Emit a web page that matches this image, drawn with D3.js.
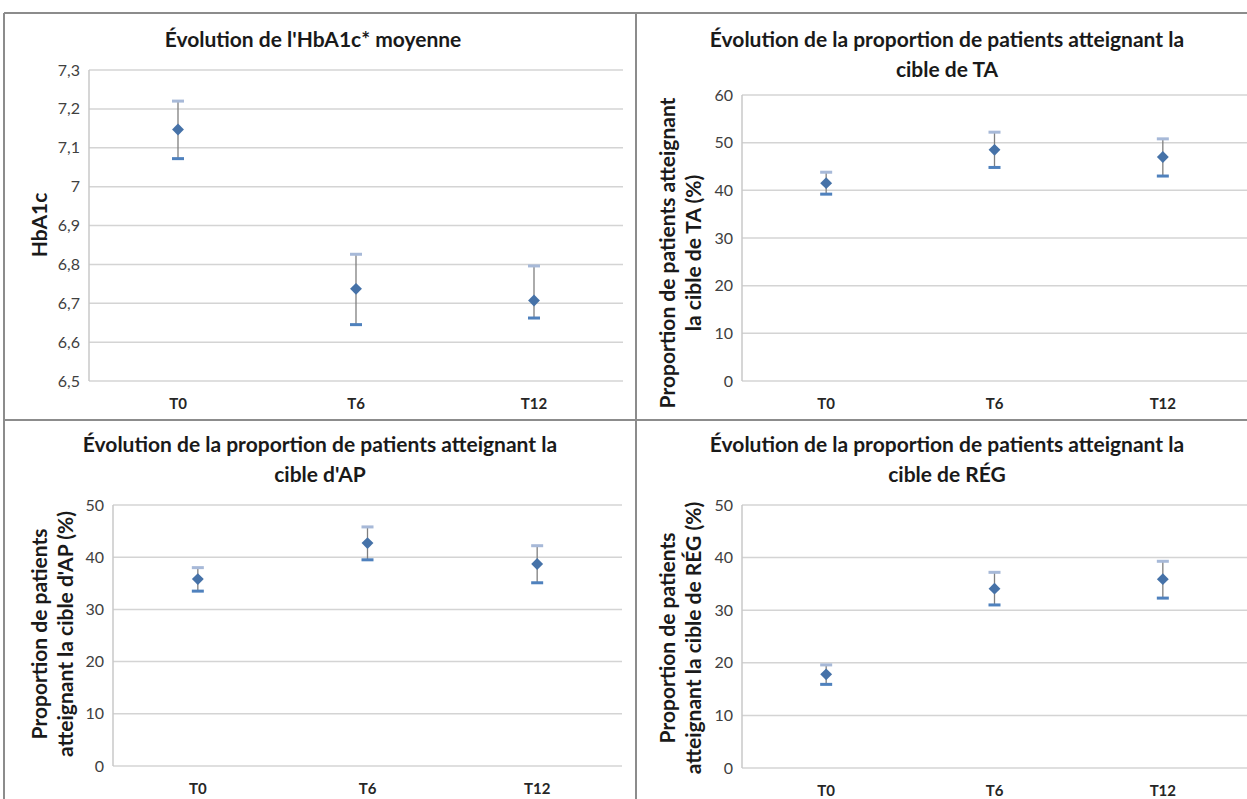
<!DOCTYPE html>
<html>
<head>
<meta charset="utf-8">
<script src="https://cdn.jsdelivr.net/npm/d3@7"></script>
<style>
  body { margin: 0; background: #fff; }
  svg { display: block; }
</style>
</head>
<body>
<div id="chart"></div>
<script>
// data
var categories = ["T0", "T6", "T12"];

var hbaMean  = [7.147, 6.737, 6.707];
var hbaUpper = [7.220, 6.826, 6.796];
var hbaLower = [7.072, 6.645, 6.662];
var hbaTicks = [6.5, 6.6, 6.7, 6.8, 6.9, 7.0, 7.1, 7.2, 7.3];

var taMean  = [41.5, 48.5, 47.0];
var taUpper = [43.8, 52.2, 50.8];
var taLower = [39.2, 44.8, 43.0];
var taTicks = [0, 10, 20, 30, 40, 50, 60];

var apMean  = [35.8, 42.7, 38.7];
var apUpper = [38.0, 45.8, 42.2];
var apLower = [33.5, 39.5, 35.1];
var apTicks = [0, 10, 20, 30, 40, 50];

var regMean  = [17.8, 34.1, 35.9];
var regUpper = [19.6, 37.2, 39.3];
var regLower = [15.9, 31.0, 32.3];
var regTicks = [0, 10, 20, 30, 40, 50];

var W = 1247, H = 799;
var font = "Lato, 'Open Sans', sans-serif";

var svg = d3.select("#chart").append("svg")
  .attr("width", W)
  .attr("height", H);

// panel frames
var frame = svg.append("g").attr("fill", "none").attr("stroke", "#8c8c8c").attr("stroke-width", 2);
frame.append("line").attr("x1", 4).attr("x2", W).attr("y1", 13).attr("y2", 13);
frame.append("line").attr("x1", 4).attr("x2", 4).attr("y1", 13).attr("y2", H);
frame.append("line").attr("x1", 636).attr("x2", 636).attr("y1", 13).attr("y2", H);
frame.append("line").attr("x1", 4).attr("x2", W).attr("y1", 420).attr("y2", 420);

var fmt = function(d) { return d3.format(".1~f")(d).replace(".", ","); };

function drawPanel(p) {
  var g = svg.append("g");

  var x = d3.scaleBand().domain(categories).range([p.left, p.right]);
  var y = d3.scaleLinear().domain([p.ticks[0], p.ticks[p.ticks.length - 1]]).range([p.bottom, p.top]);

  // gridlines
  g.append("g").selectAll("line").data(p.ticks).enter().append("line")
    .attr("x1", p.left).attr("x2", p.right)
    .attr("y1", function(d) { return y(d); }).attr("y2", function(d) { return y(d); })
    .attr("stroke", "#d4d4d4").attr("stroke-width", 1.5);

  // left axis line
  g.append("line")
    .attr("x1", p.left).attr("x2", p.left).attr("y1", p.top).attr("y2", p.bottom)
    .attr("stroke", "#c8c8c8").attr("stroke-width", 1.5);

  // y tick labels
  g.append("g").selectAll("text").data(p.ticks).enter().append("text")
    .attr("x", p.left - 9).attr("y", function(d) { return y(d); })
    .attr("dy", "0.35em")
    .attr("text-anchor", "end")
    .attr("font-family", font).attr("font-size", 16).attr("fill", "#404040")
    .text(fmt);

  // category labels
  g.append("g").selectAll("text").data(categories).enter().append("text")
    .attr("x", function(d) { return x(d) + x.bandwidth() / 2; })
    .attr("y", p.bottom + 28)
    .attr("text-anchor", "middle")
    .attr("font-family", font).attr("font-size", 15).attr("font-weight", "bold").attr("fill", "#262626")
    .text(function(d) { return d; });

  // title
  g.append("g").selectAll("text").data(p.title).enter().append("text")
    .attr("x", p.titleX).attr("y", function(d, i) { return p.titleY + i * 30; })
    .attr("text-anchor", "middle")
    .attr("font-family", font).attr("font-size", 21).attr("font-weight", "bold").attr("fill", "#1a1a1a")
    .text(function(d) { return d; });

  // y axis title
  g.append("g").selectAll("text").data(p.yTitle).enter().append("text")
    .attr("transform", function(d, i) {
      return "translate(" + (p.yTitleX + i * 26) + "," + p.yTitleY + ") rotate(-90)";
    })
    .attr("text-anchor", "middle")
    .attr("font-family", font).attr("font-size", 21).attr("font-weight", "bold").attr("fill", "#1a1a1a")
    .text(function(d) { return d; });

  var rows = categories.map(function(c, i) {
    return { cat: c, mean: p.mean[i], upper: p.upper[i], lower: p.lower[i] };
  });
  var cx = function(d) { return x(d.cat) + x.bandwidth() / 2; };

  var bars = g.append("g").selectAll("g").data(rows).enter().append("g");

  bars.append("line")
    .attr("x1", cx).attr("x2", cx)
    .attr("y1", function(d) { return y(d.upper); })
    .attr("y2", function(d) { return y(d.lower); })
    .attr("stroke", "#7f7f7f").attr("stroke-width", 1.3);

  bars.append("rect")
    .attr("x", function(d) { return cx(d) - 6; })
    .attr("y", function(d) { return y(d.upper) - 1.5; })
    .attr("width", 12).attr("height", 3)
    .attr("fill", "#a7b9d8");

  bars.append("rect")
    .attr("x", function(d) { return cx(d) - 6; })
    .attr("y", function(d) { return y(d.lower) - 1.5; })
    .attr("width", 12).attr("height", 3)
    .attr("fill", "#4f81bd");

  bars.append("path")
    .attr("d", d3.symbol().type(d3.symbolDiamond2).size(90))
    .attr("transform", function(d) { return "translate(" + cx(d) + "," + y(d.mean) + ")"; })
    .attr("fill", "#4672a8");
}

drawPanel({
  left: 89, right: 623, top: 70, bottom: 381,
  ticks: hbaTicks, mean: hbaMean, upper: hbaUpper, lower: hbaLower,
  title: ["Évolution de l'HbA1c* moyenne"], titleX: 313, titleY: 47,
  yTitle: ["HbA1c"], yTitleX: 47, yTitleY: 225
});

drawPanel({
  left: 742, right: 1247, top: 95, bottom: 381,
  ticks: taTicks, mean: taMean, upper: taUpper, lower: taLower,
  title: ["Évolution de la proportion de patients atteignant la", "cible de TA"], titleX: 947, titleY: 47,
  yTitle: ["Proportion de patients atteignant", "la cible de TA (%)"], yTitleX: 675, yTitleY: 253
});

drawPanel({
  left: 113, right: 622, top: 505, bottom: 766,
  ticks: apTicks, mean: apMean, upper: apUpper, lower: apLower,
  title: ["Évolution de la proportion de patients atteignant la", "cible d'AP"], titleX: 320, titleY: 452,
  yTitle: ["Proportion de patients", "atteignant la cible d'AP (%)"], yTitleX: 47, yTitleY: 634
});

drawPanel({
  left: 742, right: 1247, top: 505, bottom: 768,
  ticks: regTicks, mean: regMean, upper: regUpper, lower: regLower,
  title: ["Évolution de la proportion de patients atteignant la", "cible de RÉG"], titleX: 947, titleY: 452,
  yTitle: ["Proportion de patients", "atteignant la cible de RÉG (%)"], yTitleX: 675, yTitleY: 638
});
</script>
</body>
</html>
